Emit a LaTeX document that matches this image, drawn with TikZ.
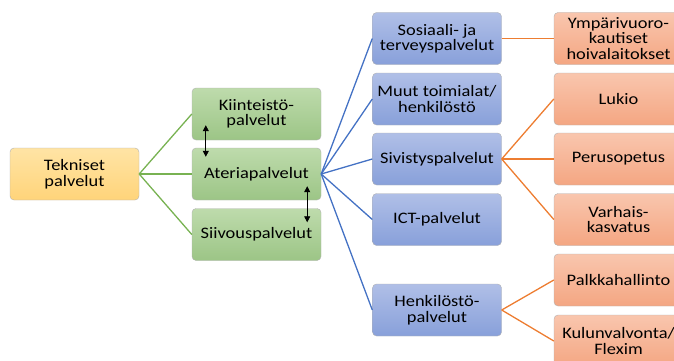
\documentclass[tikz,border=0pt]{standalone}
\usepackage{fontspec}
\setmainfont{Carlito}[FakeStretch=1.15]
\usetikzlibrary{arrows.meta,calc}
\definecolor{techtop}{RGB}{255,228,165}
\definecolor{techbot}{RGB}{255,212,122}
\definecolor{grntop}{RGB}{190,219,172}
\definecolor{grnbot}{RGB}{156,197,134}
\definecolor{blutop}{RGB}{176,191,231}
\definecolor{blubot}{RGB}{136,160,218}
\definecolor{orgtop}{RGB}{249,198,174}
\definecolor{orgbot}{RGB}{244,166,130}
\definecolor{grnline}{RGB}{120,178,82}
\definecolor{bluline}{RGB}{68,114,196}
\definecolor{orgline}{RGB}{237,125,49}

\begin{document}
\begin{tikzpicture}[x=1pt,y=-1pt,
  box/.style={rounded corners=4pt, draw=black!30, minimum width=129pt,
    minimum height=52pt, inner sep=1pt, align=center,
    font=\fontsize{16}{15.5}\selectfont},
  techbox/.style={box, top color=techtop, bottom color=techbot},
  grnbox/.style={box, top color=grntop, bottom color=grnbot},
  blubox/.style={box, top color=blutop, bottom color=blubot},
  orgbox/.style={box, top color=orgtop, bottom color=orgbot},
  link/.style={line width=1.3pt}]
  \useasboundingbox (0,0) rectangle (674,361);
  \clip (0,0) rectangle (674,361);

  % first level
  \node[techbox] (tek) at (74.5,174) {Tekniset\\palvelut};

  % second level
  \node[grnbox] (kiint) at (256.5,114) {Kiinteistö-\\palvelut};
  \node[grnbox] (ateria) at (256.5,174) {Ateriapalvelut};
  \node[grnbox] (siivous) at (256.5,234.5) {Siivouspalvelut};

  % third level
  \node[blubox] (sote) at (437,38.5) {Sosiaali- ja\\terveyspalvelut};
  \node[blubox] (muut) at (437,99) {Muut toimialat/\\henkilöstö};
  \node[blubox] (sivistys) at (437,159) {Sivistyspalvelut};
  \node[blubox] (ict) at (437,219.5) {ICT-palvelut};
  \node[blubox] (henk) at (437,310) {Henkilöstö-\\palvelut};

  % fourth level
  \node[orgbox] (hoiva) at (618.5,38.5) {Ympärivuoro-\\kautiset\\hoivalaitokset};
  \node[orgbox] (lukio) at (618.5,99) {Lukio};
  \node[orgbox] (perus) at (618.5,159) {Perusopetus};
  \node[orgbox] (varhais) at (618.5,219.5) {Varhais-\\kasvatus};
  \node[orgbox] (palkka) at (618.5,280) {Palkkahallinto};
  \node[orgbox] (kulun) at (618.5,341) {Kulunvalvonta/\\Flexim};

  \draw[link, grnline] (tek.east) -- (kiint.west);
  \draw[link, grnline] (tek.east) -- (ateria.west);
  \draw[link, grnline] (tek.east) -- (siivous.west);

  \foreach \n in {sote,muut,sivistys,ict,henk}
    \draw[link, bluline] (ateria.east) -- (\n.west);

  \draw[link, orgline] (sote.east) -- (hoiva.west);
  \foreach \n in {lukio,perus,varhais}
    \draw[link, orgline] (sivistys.east) -- (\n.west);
  \foreach \n in {palkka,kulun}
    \draw[link, orgline] (henk.east) -- (\n.west);

  % arrows between the green boxes
  \coordinate (k1) at ($(kiint.south west)+(14,-15)$);
  \coordinate (a1) at ($(ateria.north west)+(14,9)$);
  \coordinate (a2) at ($(ateria.south east)+(-14,-14)$);
  \coordinate (s2) at ($(siivous.north east)+(-14,14)$);
  \draw[thick, {Triangle[width=6pt,length=6pt]}-{Triangle[width=6pt,length=6pt]}] (k1) -- (a1);
  \draw[thick, {Triangle[width=6pt,length=6pt]}-{Triangle[width=6pt,length=6pt]}] (a2) -- (s2);
\end{tikzpicture}
\end{document}
